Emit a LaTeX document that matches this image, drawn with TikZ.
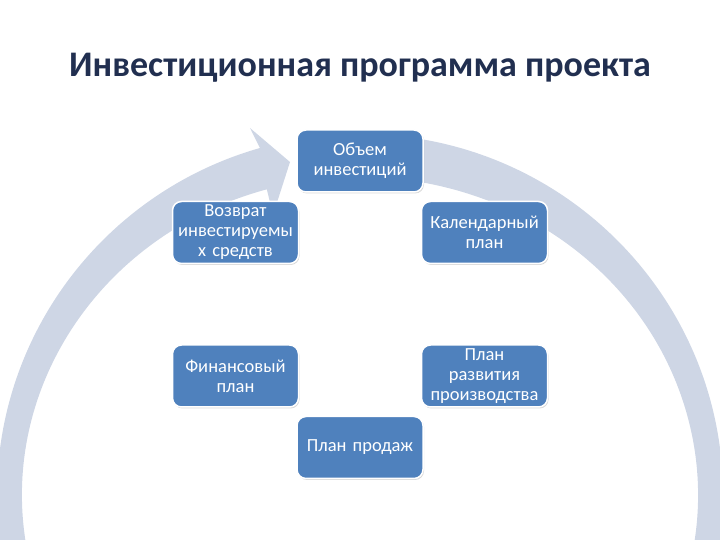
\documentclass[tikz,border=0pt]{standalone}
\usepackage{fontspec}
\setmainfont{Carlito}
\usetikzlibrary{calc,shadows}
\definecolor{ringgray}{RGB}{206,214,229}
\definecolor{boxblue}{RGB}{79,129,189}
\definecolor{titlenavy}{RGB}{33,47,80}

\begin{document}
\begin{tikzpicture}[x=1pt,y=1pt,
  blockbox/.style={rectangle,rounded corners=9pt,fill=boxblue,draw=white,line width=1.5pt,
    minimum width=126pt,minimum height=62pt,text width=122pt,align=center,text=white,
    font=\fontsize{18.5}{20}\selectfont,inner sep=1pt,
    drop shadow={opacity=0.3,shadow xshift=1pt,shadow yshift=-1.5pt}}]
  \useasboundingbox (0,0) rectangle (720,540);
  % title
  \node[font=\fontsize{36}{42}\selectfont\bfseries,text=titlenavy] (title) at (360,472)
    {Инвестиционная программа проекта};
  % big circular arrow behind the boxes
  \begin{scope}
    \clip (0,0) rectangle (720,540);
    \coordinate (c) at (360,45);
    \coordinate (barbA) at (250,412);
    \coordinate (tip) at (290,378);
    \coordinate (barbB) at (273,325);
    \fill[ringgray] ($(c)+(87:363pt and 361pt)$)
      arc[start angle=87,end angle=-254,x radius=363pt,y radius=361pt]
      -- (barbA) -- (tip) -- (barbB)
      -- ($(c)+(106:338pt and 318pt)$)
      arc[start angle=-254,end angle=87,x radius=338pt,y radius=318pt] -- cycle;
  \end{scope}
  % the six stages
  \node[blockbox] (vol)  at (360,379)     {Объем\\инвестиций};
  \node[blockbox] (cal)  at (484.5,307.5) {Календарный\\план};
  \node[blockbox] (dev)  at (484.5,164)   {План\\развития\\производства};
  \node[blockbox] (sale) at (360,92.5)    {План продаж};
  \node[blockbox] (fin)  at (235.5,164)   {Финансовый\\план};
  \node[blockbox] (ret)  at (235.5,307.5) {Возврат\\инвестируемы\\х средств};
\end{tikzpicture}
\end{document}
